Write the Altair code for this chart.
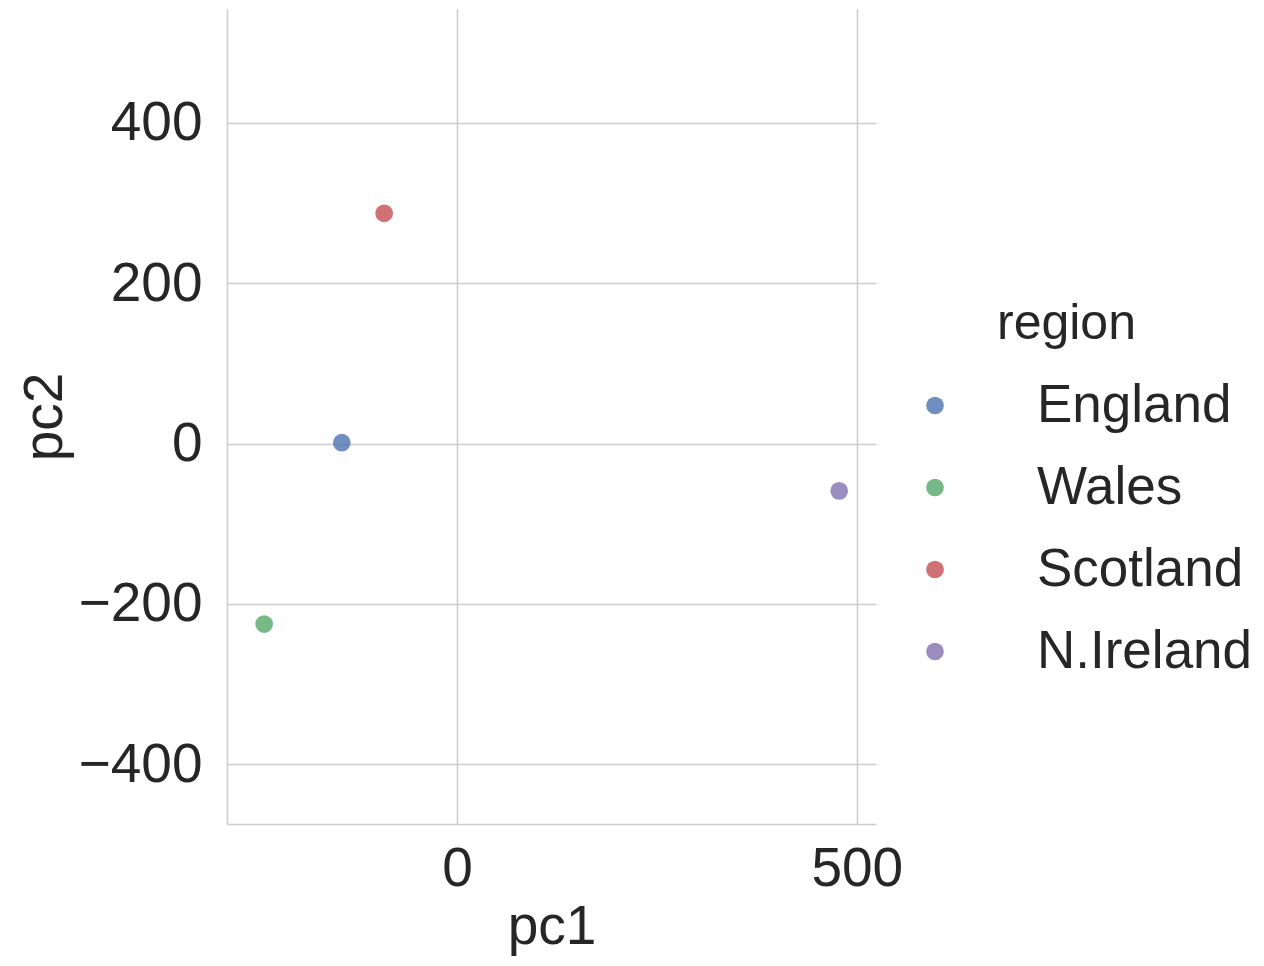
import altair as alt
import pandas as pd

regions = ["England", "Wales", "Scotland", "N.Ireland"]
pc1 = [-144, -241, -91, 478]
pc2 = [1, -225, 287, -59]
palette = ["#4C72B0", "#55A868", "#C44E52", "#8172B2"]

df = pd.DataFrame({"pc1": pc1, "pc2": pc2, "region": regions})

FONT = "Liberation Sans"
TXT = "#262626"

chart = (
    alt.Chart(df)
    .mark_circle(size=314, opacity=0.8)
    .encode(
        x=alt.X(
            "pc1:Q",
            title="pc1",
            scale=alt.Scale(domain=[-287.5, 524], nice=False, zero=False),
            axis=alt.Axis(values=[0, 500], labelPadding=18, titlePadding=4),
        ),
        y=alt.Y(
            "pc2:Q",
            title="pc2",
            scale=alt.Scale(domain=[-474.3, 541.7], nice=False, zero=False),
            axis=alt.Axis(values=[-400, -200, 0, 200, 400], labelPadding=25, titlePadding=5),
        ),
        color=alt.Color(
            "region:N",
            scale=alt.Scale(domain=regions, range=palette),
            legend=alt.Legend(
                title="region",
                orient="none",
                legendX=770,
                legendY=290,
                symbolOffset=-88.5,
                labelOffset=75.5,
                symbolSize=314,
                symbolOpacity=0.8,
                symbolType="circle",
                symbolStrokeWidth=0,
                titlePadding=30,
                rowPadding=28,
                padding=0,
            ),
        ),
    )
    .properties(
        width=649,
        height=815,
        autosize=alt.AutoSizeParams(type="none"),
        padding={"left": 219, "top": 1, "right": 380, "bottom": 134},
    )
    .configure_view(stroke=None)
    .configure_axis(
        labelFont=FONT,
        titleFont=FONT,
        labelFontSize=55,
        titleFontSize=55,
        titleFontWeight="normal",
        labelColor=TXT,
        titleColor=TXT,
        ticks=False,
        domainColor="#cccccc",
        domainWidth=1.5,
        gridColor="#cccccc",
        gridWidth=1.5,
        grid=True,
    )
    .configure_legend(
        labelFont=FONT,
        titleFont=FONT,
        labelFontSize=53,
        titleFontSize=50,
        titleFontWeight="normal",
        labelColor=TXT,
        titleColor=TXT,
        labelLimit=400,
    )
)

chart.save("out.html", embed_options={"renderer": "svg", "actions": False})
